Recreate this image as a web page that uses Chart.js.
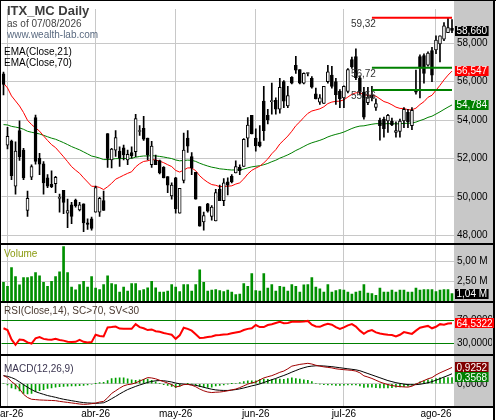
<!DOCTYPE html>
<html>
<head>
<meta charset="utf-8">
<script src="https://cdn.jsdelivr.net/npm/chart.js@4.4.1/dist/chart.umd.min.js"></script>
<style>
  html, body { margin: 0; padding: 0; background: #fff; }
  canvas { display: block; }
</style>
</head>
<body>
<canvas id="chart" width="496" height="420"></canvas>
<script>
// daily bars, 27 feb -> 7 aug 2026
const opens = [56.4,52.69,52.9,50.56,53.45,52.43,49.29,51.02,54.13,52.0,
  51.72,50.99,50.65,50.68,49.92,50.34,49.15,49.58,49.83,49.32,
  49.63,48.64,48.86,49.2,49.2,49.8,53.29,51.92,52.43,52.38,
  52.55,51.92,52.31,52.35,53.4,53.57,53.06,51.67,51.92,51.89,
  51.53,51.06,50.05,50.99,49.15,50.85,53.06,52.09,51.28,49.49,
  48.69,49.63,48.98,48.74,50.39,49.8,50.78,51.07,51.24,51.53,
  51.58,53.06,54.25,53.06,52.86,54.98,54.25,54.96,55.03,54.56,
  56.0,54.73,56.22,56.85,56.63,55.92,56.42,56.17,55.36,54.93,
  54.86,56.0,56.34,56.0,55.49,55.15,55.49,57.14,57.3,56.2,
  55.45,54.9,55.3,54.65,54.0,54.05,53.95,53.95,53.35,53.4,
  53.95,54.4,53.7,55.55,57.3,57.36,56.85,57.62,57.65,57.96,
  58.21,58.55,58.78];
const highs = [56.5,53.62,52.95,52.86,53.96,52.52,50.3,51.67,54.26,52.27,
  51.84,51.16,51.36,51.07,50.14,50.34,49.88,49.71,49.88,49.71,
  49.63,48.86,48.95,50.56,49.97,50.3,53.29,52.52,53.45,52.6,
  52.69,52.43,52.6,54.3,53.71,54.19,53.06,52.89,52.18,51.92,
  51.58,51.06,50.73,51.02,50.44,53.32,53.45,52.31,51.28,49.49,
  49.2,49.66,49.54,50.39,50.61,50.95,50.99,51.16,51.87,51.67,
  53.03,54.13,54.25,53.54,53.71,55.75,54.56,55.92,55.15,56.17,
  56.05,55.75,56.26,57.31,56.63,56.46,56.46,56.26,55.66,55.32,
  55.75,56.85,56.8,56.17,55.58,55.78,56.68,57.28,57.7,56.3,
  55.7,55.7,55.75,55.1,54.1,54.15,54.3,54.1,53.9,54.05,
  54.65,54.55,54.65,56.6,57.4,57.45,57.55,57.79,58.38,58.38,
  59.07,59.32,59.23];
const lows = [55.3,52.5,50.9,50.14,51.9,50.9,48.98,50.9,51.7,51.16,
  50.14,50.48,50.48,50.22,49.2,49.12,48.4,48.6,49.46,49.27,
  48.18,48.3,48.27,49.2,48.98,49.29,51.53,51.5,52.1,51.58,
  51.92,51.67,52.01,52.09,53.2,52.94,51.92,51.53,51.67,51.19,
  50.99,50.22,49.88,49.15,49.15,50.73,52.31,51.16,49.88,48.47,
  48.27,49.2,48.78,48.74,49.8,49.54,50.1,50.73,51.24,51.16,
  51.58,52.6,53.28,52.38,52.6,52.94,53.79,54.3,54.3,54.35,
  54.64,54.64,55.88,56.43,55.88,55.88,56.29,55.66,55.1,54.81,
  54.86,55.92,55.66,54.81,54.64,54.64,55.41,56.68,56.1,55.3,
  54.05,54.8,55.0,54.5,52.95,53.1,53.35,53.7,53.1,53.1,
  53.6,53.6,53.5,55.35,55.15,55.92,56.8,56.0,57.45,57.02,
  58.13,58.55,58.55];
const closes = [55.85,53.15,51.1,52.38,52.09,50.99,49.92,51.58,51.84,51.7,
  50.73,50.56,50.53,51.02,49.94,49.71,49.29,48.98,49.54,49.59,
  48.64,48.57,48.35,50.48,49.92,49.29,52.0,52.48,53.08,52.01,
  52.18,52.21,52.14,54.08,53.42,53.0,52.18,52.64,51.67,51.24,
  50.99,50.61,50.61,49.37,50.44,52.43,52.64,51.5,49.88,48.47,
  49.03,49.25,49.46,50.22,49.8,50.73,50.61,50.78,51.58,51.36,
  52.99,53.74,53.28,52.65,52.65,53.45,54.01,54.98,54.56,55.7,
  54.98,55.27,55.92,56.6,55.92,56.43,56.44,55.71,55.1,55.15,
  55.75,56.51,55.75,55.32,55.1,55.75,56.63,56.77,56.2,55.45,
  54.15,55.2,55.15,54.85,53.7,53.55,54.25,53.75,53.45,53.95,
  54.55,53.9,54.5,55.45,56.7,56.43,57.48,56.34,58.16,58.38,
  58.9,58.81,58.66];
// volume in millions
const volumes = [2.42,1.94,4.2,3.13,2.1,3.0,3.0,3.13,3.6,3.21,
  2.42,1.94,2.54,3.13,3.69,6.78,3.6,1.82,1.5,2.14,
  2.54,1.82,3.13,1.7,1.54,2.14,3.21,2.26,2.14,1.23,
  1.82,1.35,2.26,2.26,1.42,1.54,1.74,2.54,1.74,1.23,
  1.23,1.35,2.14,1.82,1.3,2.14,2.14,1.35,2.14,3.93,
  2.42,1.35,1.46,1.54,1.42,1.3,1.46,1.23,0.91,0.99,
  2.26,1.94,3.49,1.42,1.35,3.49,1.7,2.14,1.35,1.94,
  1.82,1.35,2.14,1.94,1.23,2.1,2.14,3.0,1.82,1.62,
  1.23,2.14,1.23,1.42,1.54,1.46,1.23,0.99,1.23,1.35,
  2.14,1.11,1.03,0.83,1.7,1.23,1.23,1.46,1.23,1.46,
  1.46,1.23,1.23,1.7,1.46,1.54,1.54,1.54,1.3,1.46,
  1.54,1.54,1.04];
const rsiValues = [56,53,37,28,37,36,32,30,39,41,
  38,37,36.5,38,36,35,33,32.5,33,36.5,
  33,32,32.5,45,43,42,57.5,58,59,55.5,
  55,55,55,63,58,56,53,54,51,50,
  48,46.5,45,38,44,57,55,52,46,39.5,
  40,41,42,44,44.5,45.5,46,47.5,49,50,
  53,55,56,61.5,58,58,61.5,63,65,67,
  64.5,65,67,67.5,67,67.5,68.5,62,59,58.5,
  61.5,63.5,62,58,55,57.5,61,63,59,52,
  46.5,51,53,49,47,46,45,44.5,42,45,
  49.5,48,46.5,52,57,58.5,60,56,58.5,63,
  62,64,64.5322];
const macdValues = [0.46,0.35,0.12,-0.05,-0.3,-0.6,-0.78,-0.88,-0.9,-0.92,
  -0.93,-0.94,-0.95,-0.96,-1.0,-1.03,-1.06,-1.09,-1.12,-1.15,
  -1.17,-1.16,-1.13,-1.1,-1.04,-1.0,-0.8,-0.55,-0.4,-0.25,
  -0.12,-0.05,-0.02,0.05,0.15,0.25,0.35,0.33,0.28,0.2,
  0.12,0.04,-0.05,-0.18,-0.14,-0.05,-0.03,-0.08,-0.17,-0.3,
  -0.4,-0.47,-0.5,-0.48,-0.47,-0.44,-0.4,-0.35,-0.3,-0.22,
  -0.12,-0.02,0.05,0.1,0.22,0.33,0.4,0.46,0.55,0.65,
  0.72,0.85,1.0,1.05,1.1,1.13,1.16,1.12,1.05,1.0,
  0.96,0.93,0.9,0.85,0.82,0.8,0.78,0.76,0.72,0.62,
  0.45,0.38,0.3,0.2,0.1,0.02,-0.05,-0.1,-0.14,-0.16,
  -0.18,-0.19,-0.14,-0.02,0.08,0.18,0.28,0.35,0.5,0.62,
  0.72,0.82,0.9252];
const signalValues = [0.46,0.42,0.35,0.25,0.1,-0.05,-0.2,-0.33,-0.45,-0.53,
  -0.6,-0.67,-0.72,-0.77,-0.83,-0.88,-0.92,-0.96,-1.0,-1.04,
  -1.07,-1.09,-1.1,-1.11,-1.1,-1.08,-0.98,-0.85,-0.72,-0.58,
  -0.45,-0.33,-0.24,-0.15,-0.07,0.0,0.08,0.13,0.17,0.18,
  0.17,0.14,0.1,0.04,0.0,-0.02,-0.04,-0.06,-0.09,-0.14,
  -0.2,-0.26,-0.31,-0.35,-0.37,-0.38,-0.38,-0.36,-0.33,-0.29,
  -0.24,-0.18,-0.12,-0.07,-0.01,0.07,0.15,0.23,0.3,0.39,
  0.47,0.56,0.66,0.75,0.84,0.91,0.97,1.0,1.02,1.02,
  1.01,0.99,0.97,0.94,0.91,0.88,0.85,0.82,0.79,0.74,
  0.66,0.58,0.5,0.42,0.34,0.26,0.18,0.12,0.06,0.02,
  -0.02,-0.05,-0.06,-0.05,-0.03,0.01,0.06,0.12,0.2,0.29,
  0.38,0.47,0.5684];

const monthLabels = ['mar-26', 'abr-26', 'may-26', 'jun-26', 'jul-26', 'ago-26'];
const monthBars = [1, 23, 43, 63, 85, 108];
const priceTicks = [48, 50, 52, 54, 56, 58];
const volumeTicks = [2.5, 5];
const rsiTicks = [30, 50, 70];
const macdTicks = [0];
const levelValues = [59.32, 56.72, 55.56];
const levelColors = ['#ff0000', '#008000', '#008000'];
const levelFrom = 92;
const ema21Seed = 55.93;
const ema70Seed = 53.7;

function ema(src, period, seed) {
  const k = 2 / (period + 1);
  let prev = seed;
  return src.map(v => (prev = prev + k * (v - prev)));
}
const ema21 = ema(closes, 21, ema21Seed);
const ema70 = ema(closes, 70, ema70Seed);
const histValues = macdValues.map((m, i) => m - signalValues[i]);

const last = closes.length - 1;
const labels = closes.map((c, i) => i);
const fmt = (v, d) => v.toFixed(d).replace('.', ',');
const FONT = '"Liberation Sans", Arial, sans-serif';

const levelSets = levelValues.map((v, n) => ({
  type: 'line',
  data: closes.map((c, i) => (i >= levelFrom ? v : null)),
  yAxisID: 'y',
  borderColor: levelColors[n],
  borderWidth: 2,
  pointRadius: 0,
  spanGaps: false,
  order: 0
}));

function fixWidth(s) { s.width = 38; }
function setTicks(list) { return s => { s.ticks = list.map(v => ({ value: v })); }; }
const tickFont = { family: FONT, size: 10 };

function tag(ctx, y, text, bg) {
  ctx.font = '10px ' + FONT;
  const w = ctx.measureText(text).width;
  ctx.fillStyle = bg;
  ctx.fillRect(455, Math.round(y) - 5, w + 3, 10);
  ctx.fillStyle = '#fff';
  ctx.fillText(text, 456.5, y + 0.5);
}

const decor = {
  id: 'decor',
  beforeDraw(chart) {
    const { ctx, chartArea: a } = chart;
    ctx.save();
    ctx.fillStyle = '#fff';
    ctx.fillRect(0, 0, chart.width, chart.height);
    ctx.fillStyle = '#c8c8c8';
    ctx.fillRect(a.right, 0, 493 - a.right, a.bottom);
    ctx.restore();
  },
  afterDraw(chart) {
    const { ctx, scales } = chart;
    ctx.save();
    ctx.textBaseline = 'middle';

    // frame and pane separators
    ctx.strokeStyle = '#000';
    ctx.lineWidth = 1;
    ctx.beginPath();
    ctx.moveTo(0, 0.5); ctx.lineTo(496, 0.5);
    ctx.moveTo(0.5, 0); ctx.lineTo(0.5, 407);
    ctx.stroke();
    ctx.lineWidth = 2;
    ctx.beginPath();
    ctx.moveTo(494, 0); ctx.lineTo(494, 420);
    [scales.vol.top, scales.rsi.top, scales.macd.top, scales.macd.bottom].forEach(y => {
      ctx.moveTo(0, Math.round(y)); ctx.lineTo(494, Math.round(y));
    });
    ctx.stroke();

    // header
    ctx.textAlign = 'left';
    ctx.font = 'bold 13px ' + FONT;
    ctx.fillStyle = '#3c3c3c';
    ctx.fillText('ITX_MC Daily', 7, 11);
    ctx.font = '10px ' + FONT;
    ctx.fillStyle = '#444';
    ctx.fillText('as of 07/08/2026', 7, 24);
    ctx.fillStyle = '#5a6a80';
    ctx.fillText('www.wealth-lab.com', 7, 35);
    ctx.fillStyle = '#000';
    ctx.fillText('EMA(Close,21)', 4, 52.5);
    ctx.fillText('EMA(Close,70)', 4, 63);
    ctx.fillStyle = '#8a9a10';
    ctx.fillText('Volume', 4, scales.vol.top + 9.5);
    ctx.fillStyle = '#4a3a30';
    ctx.fillText('RSI(Close,14), SC>70, SV<30', 4, scales.rsi.top + 9.5);
    ctx.fillStyle = '#3a3450';
    ctx.fillText('MACD(12,26,9)', 4, scales.macd.top + 14);

    // level labels
    ctx.textAlign = 'right';
    ctx.fillStyle = '#333';
    const lx = scales.x.getPixelForValue(levelFrom) + 4;
    levelValues.forEach(v => {
      ctx.fillText(fmt(v, 2), lx, scales.y.getPixelForValue(v) + 6.5);
    });

    // month labels
    ctx.textAlign = 'center';
    ctx.fillStyle = '#000';
    monthBars.forEach((b, n) => {
      ctx.fillText(monthLabels[n], scales.x.getPixelForValue(b), 414);
    });

    // last-value tags
    ctx.textAlign = 'left';
    tag(ctx, scales.y.getPixelForValue(closes[last]), fmt(closes[last], 3), '#000');
    tag(ctx, scales.y.getPixelForValue(ema21[last]), fmt(ema21[last], 3), '#ff0000');
    tag(ctx, scales.y.getPixelForValue(ema70[last]), fmt(ema70[last], 3), '#008000');
    tag(ctx, scales.vol.getPixelForValue(volumes[last]), fmt(volumes[last], 2) + ' M', '#000');
    tag(ctx, scales.rsi.getPixelForValue(rsiValues[last]), fmt(rsiValues[last], 4), '#ff0000');
    tag(ctx, scales.macd.getPixelForValue(macdValues[last]), fmt(macdValues[last], 4), '#800000');
    tag(ctx, scales.macd.getPixelForValue(histValues[last]), fmt(histValues[last], 4), '#008000');
    ctx.restore();
  }
};

new Chart(document.getElementById('chart'), {
  data: {
    labels: labels,
    datasets: [
      ...levelSets,
      {
        type: 'bar',
        data: opens.map((o, i) => [o, closes[i]]),
        yAxisID: 'y',
        backgroundColor: opens.map((o, i) => (closes[i] >= o ? '#fff' : '#000')),
        borderColor: '#000',
        borderWidth: 1,
        borderSkipped: false,
        barThickness: 3,
        minBarLength: 1,
        grouped: false,
        order: 1
      },
      {
        type: 'bar',
        data: lows.map((l, i) => [l, highs[i]]),
        yAxisID: 'y',
        backgroundColor: '#000',
        barThickness: 1,
        grouped: false,
        order: 2
      },
      { type: 'line', data: ema21, yAxisID: 'y', borderColor: '#ff0000', borderWidth: 1, pointRadius: 0, order: 3 },
      { type: 'line', data: ema70, yAxisID: 'y', borderColor: '#008000', borderWidth: 1, pointRadius: 0, order: 4 },
      {
        type: 'bar', data: volumes, yAxisID: 'vol', backgroundColor: '#009000',
        barThickness: 2, grouped: false, order: 5
      },
      { type: 'line', data: rsiValues, yAxisID: 'rsi', borderColor: '#ff0000', borderWidth: 2, pointRadius: 0, order: 6 },
      {
        type: 'bar', data: histValues, yAxisID: 'macd', backgroundColor: '#00a000',
        barThickness: 1, grouped: false, order: 9
      },
      { type: 'line', data: signalValues, yAxisID: 'macd', borderColor: '#000', borderWidth: 1, pointRadius: 0, order: 8 },
      { type: 'line', data: macdValues, yAxisID: 'macd', borderColor: '#a00000', borderWidth: 1, pointRadius: 0, order: 7 }
    ]
  },
  options: {
    responsive: false,
    animation: false,
    devicePixelRatio: 1,
    layout: { padding: { top: 1, left: 1.5, right: 4, bottom: 13 } },
    plugins: { legend: { display: false }, tooltip: { enabled: false } },
    scales: {
      x: {
        type: 'category',
        offset: true,
        grid: {
          offset: false,
          drawTicks: false,
          color: c => (monthBars.includes(c.index) ? '#c8c8c8' : 'rgba(0,0,0,0)')
        },
        ticks: { display: false, autoSkip: false },
        border: { display: false },
        afterFit: s => { s.height = 0; }
      },
      y: {
        position: 'right', stack: 'panes', stackWeight: 240,
        min: 47.53, max: 59.78,
        afterBuildTicks: setTicks(priceTicks),
        ticks: { font: tickFont, color: '#000', padding: 3, callback: v => fmt(v, 3) },
        grid: { color: '#c8c8c8', drawTicks: false },
        border: { display: false },
        afterFit: fixWidth
      },
      vol: {
        position: 'right', stack: 'panes', stackWeight: 59,
        min: 0, max: 7.06,
        afterBuildTicks: setTicks(volumeTicks),
        ticks: { font: tickFont, color: '#000', padding: 3, callback: v => fmt(v, 2) + ' M' },
        grid: { color: '#c8c8c8', drawTicks: false },
        border: { display: false },
        afterFit: fixWidth
      },
      rsi: {
        position: 'right', stack: 'panes', stackWeight: 54,
        min: 10.5, max: 100.5,
        afterBuildTicks: setTicks(rsiTicks),
        ticks: { font: tickFont, color: '#000', padding: 3, callback: v => fmt(v, 4) },
        grid: { color: c => (c.tick && c.tick.value === 50 ? '#c8c8c8' : '#008000'), drawTicks: false },
        border: { display: false },
        afterFit: fixWidth
      },
      macd: {
        position: 'right', stack: 'panes', stackWeight: 53,
        min: -1.32, max: 1.63,
        afterBuildTicks: setTicks(macdTicks),
        ticks: { font: tickFont, color: '#000', padding: 3, callback: v => fmt(v, 4) },
        grid: { color: '#c8c8c8', drawTicks: false },
        border: { display: false },
        afterFit: fixWidth
      }
    }
  },
  plugins: [decor]
});
</script>
</body>
</html>
